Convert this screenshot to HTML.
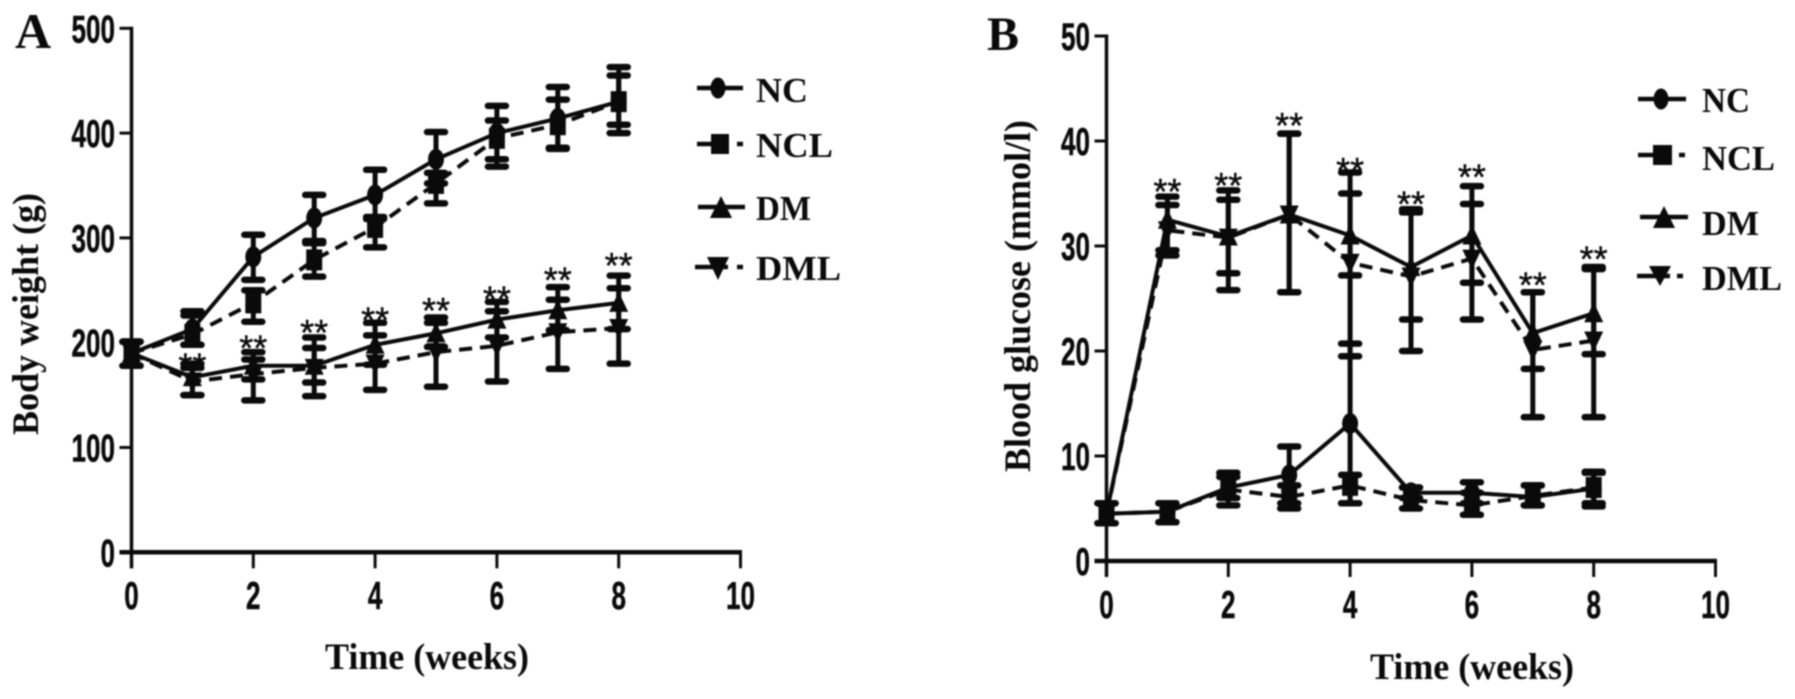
<!DOCTYPE html>
<html lang="en">
<head>
<meta charset="utf-8">
<title>Body weight and blood glucose over time</title>
<style>
html,body{margin:0;padding:0;background:#fff;}
#figure{display:block;width:1795px;height:699px;filter:blur(0.7px);}
.tick{font-family:"Liberation Sans",sans-serif;font-weight:bold;font-size:39px;fill:#0a0a0a;stroke:#0a0a0a;stroke-width:0.5px;}
.serif{font-family:"Liberation Serif",serif;font-weight:bold;fill:#0a0a0a;}
.star{font-family:"Liberation Sans",sans-serif;font-size:36px;fill:#0a0a0a;stroke:#0a0a0a;stroke-width:0.4px;text-anchor:middle;}
</style>
</head>
<body>
<svg id="figure" xmlns="http://www.w3.org/2000/svg" width="1795" height="699" viewBox="0 0 1795 699">
  <rect width="1795" height="699" fill="#fff"/>
  <text class="serif" x="15" y="48" font-size="50">A</text>
  <text class="serif" x="987" y="50" font-size="48">B</text>

  <text class="serif" font-size="37" textLength="242" lengthAdjust="spacingAndGlyphs" transform="translate(38 435) rotate(-90)">Body weight (g)</text>
  <text class="serif" font-size="37" textLength="204" lengthAdjust="spacingAndGlyphs" x="325" y="669">Time (weeks)</text>
  <text class="serif" font-size="37" textLength="352" lengthAdjust="spacingAndGlyphs" transform="translate(1030 472) rotate(-90)">Blood glucose (mmol/l)</text>
  <text class="serif" font-size="37" textLength="204" lengthAdjust="spacingAndGlyphs" x="1370" y="679">Time (weeks)</text>

  <g stroke="#0a0a0a" stroke-width="4.5" fill="#0a0a0a">
    <g>
      <line x1="697" y1="88" x2="743" y2="88"/><ellipse cx="718" cy="88" rx="7.5" ry="10.5" stroke="none"/>
      <text class="serif" stroke="none" font-size="35" x="756" y="102" textLength="52" lengthAdjust="spacingAndGlyphs">NC</text>
    </g>
    <g>
      <line x1="697" y1="144" x2="728" y2="144"/><line x1="737" y1="144" x2="743" y2="144"/><rect x="711" y="134" width="18" height="20" stroke="none"/>
      <text class="serif" stroke="none" font-size="35" x="756" y="157" textLength="77" lengthAdjust="spacingAndGlyphs">NCL</text>
    </g>
    <g>
      <line x1="698" y1="207" x2="745" y2="207"/><polygon points="721,196 732,218 710,218" stroke="none"/>
      <text class="serif" stroke="none" font-size="35" x="756" y="220" textLength="55" lengthAdjust="spacingAndGlyphs">DM</text>
    </g>
    <g>
      <line x1="695" y1="267" x2="709" y2="267"/><line x1="737" y1="267" x2="743" y2="267"/><line x1="709" y1="267" x2="728" y2="267"/><polygon points="707,257 729,257 718,280" stroke="none"/>
      <text class="serif" stroke="none" font-size="35" x="756" y="280" textLength="85" lengthAdjust="spacingAndGlyphs">DML</text>
    </g>
  </g>

  <g stroke="#0a0a0a" stroke-width="4.5" fill="#0a0a0a">
    <g>
      <line x1="1638" y1="99" x2="1686" y2="99"/><ellipse cx="1661" cy="99" rx="7.5" ry="10.5" stroke="none"/>
      <text class="serif" stroke="none" font-size="35" x="1702" y="112" textLength="48" lengthAdjust="spacingAndGlyphs">NC</text>
    </g>
    <g>
      <line x1="1638" y1="155" x2="1670" y2="155"/><line x1="1679" y1="155" x2="1685" y2="155"/><rect x="1653" y="145" width="19" height="20" stroke="none"/>
      <text class="serif" stroke="none" font-size="35" x="1702" y="170" textLength="73" lengthAdjust="spacingAndGlyphs">NCL</text>
    </g>
    <g>
      <line x1="1640" y1="217" x2="1688" y2="217"/><polygon points="1664,206 1675,228 1653,228" stroke="none"/>
      <text class="serif" stroke="none" font-size="35" x="1702" y="235" textLength="57" lengthAdjust="spacingAndGlyphs">DM</text>
    </g>
    <g>
      <line x1="1637" y1="276" x2="1651" y2="276"/><line x1="1677" y1="276" x2="1683" y2="276"/><line x1="1651" y1="276" x2="1670" y2="276"/><polygon points="1649,266 1671,266 1660,286" stroke="none"/>
      <text class="serif" stroke="none" font-size="35" x="1702" y="290" textLength="80" lengthAdjust="spacingAndGlyphs">DML</text>
    </g>
  </g>

  <g id="panel-a"></g>
  <g id="panel-b"></g>
</svg>

<script>
const weeks = [0, 1, 2, 3, 4, 5, 6, 7, 8];
const xTickValues = [0, 2, 4, 6, 8, 10];
const yTickValuesA = [0, 100, 200, 300, 400, 500];
const yTickValuesB = [0, 10, 20, 30, 40, 50];

const weightNC = [190, 213, 282, 319, 341, 375, 400, 414, 430];
const weightNCHigh = [201, 230, 303, 341, 365, 401, 426, 444, 463];
const weightNCLow = [178, 198, 260, 297, 318, 352, 375, 385, 408];
const weightNCL = [190, 208, 238, 279, 310, 352, 395, 408, 430];
const weightNCLHigh = [201, 226, 250, 295, 320, 362, 412, 432, 455];
const weightNCLLow = [178, 198, 220, 263, 291, 333, 368, 386, 400];
const weightDM = [190, 167, 178, 178, 198, 209, 222, 231, 238];
const weightDMHigh = [201, 180, 191, 195, 219, 219, 239, 253, 264];
const weightDMLow = [178, 150, 165, 162, 179, 196, 205, 212, 213];
const weightDML = [190, 163, 170, 176, 180, 191, 197, 210, 214];
const weightDMLHigh = [201, 176, 184, 205, 207, 224, 230, 241, 252];
const weightDMLLow = [178, 150, 145, 149, 155, 158, 163, 175, 180];
const weightStarLevels = [null, 185, 202, 217, 229, 238, 249, 267, 281];

const glucoseNC = [4.5, 4.7, 7, 8.2, 13.1, 6.5, 6.5, 6.1, 6.9];
const glucoseNCHigh = [5.5, 5.5, 8.4, 10.9, 20.7, 7, 7.5, 7.2, 8.5];
const glucoseNCLow = [3.6, 3.7, 6, 5.5, 5.5, 6, 5.5, 5.3, 5.5];
const glucoseNCL = [4.5, 4.7, 6.8, 6.1, 7.2, 5.8, 5.3, 6.2, 7];
const glucoseNCLHigh = [5.5, 5.5, 8, 7.2, 8.2, 7, 6.5, 7.2, 8.4];
const glucoseNCLLow = [3.6, 3.7, 5.3, 5, 5.5, 5, 4.4, 5.3, 5.2];
const glucoseDM = [4.5, 32.5, 30.9, 33, 31, 28, 31, 21.7, 23.6];
const glucoseDMHigh = [5.5, 34.7, 34.4, 40.7, 35, 33.5, 35.7, 25.6, 28];
const glucoseDMLow = [3.6, 29.6, 27.4, 25.6, 27.2, 23, 26.5, 18.3, 19.7];
const glucoseDML = [4.5, 31.5, 30.8, 33, 28.4, 27.1, 28.8, 20.1, 21];
const glucoseDMLHigh = [5.5, 33.9, 35.3, 40.7, 37, 33.2, 34, 25.6, 27.8];
const glucoseDMLLow = [3.6, 29.1, 25.8, 25.6, 19.5, 20, 23, 13.7, 13.7];
const glucoseStarLevels = [null, 35.9, 36.5, 42.2, 37.9, 34.7, 37.3, 27, 29.5];

const SVGNS = 'http://www.w3.org/2000/svg';
const INK = '#0a0a0a';

function xAxisA(v) { return 131.5 + (v / 10) * 609; }
function yAxisA(v) { return 552.3 - (v / 500) * 524; }
function xAxisB(v) { return 1106.5 + (v / 10) * 609; }
function yAxisB(v) { return 561 - (v / 50) * 525; }

function shape(parent, tag, attrs) {
  const el = document.createElementNS(SVGNS, tag);
  for (const key in attrs) el.setAttribute(key, attrs[key]);
  parent.appendChild(el);
  return el;
}

function drawAxes(root, x, y, xTicks, yTicks, yLabelEnd, xLabelBaseline, tickWidth) {
  const group = shape(root, 'g', {});
  
  

  const yLine = shape(group, 'line', { x1: x(0), x2: x(0), y1: y(yTicks[yTicks.length - 1]) - 1.5, y2: y(0) + 16, stroke: INK, 'stroke-width': 3.5 });
  
  

  const xLine = shape(group, 'line', { x1: x(0) - 12, x2: x(xTicks[xTicks.length - 1]) + 1.5, y1: y(0), y2: y(0), stroke: INK, 'stroke-width': 4.5 });
  
  

  yTicks.forEach(function (t) {
    const mark = shape(group, 'line', { x1: x(0) - 12, x2: x(0), y1: y(t), y2: y(t), stroke: INK, 'stroke-width': 3 });
    
    
    const digits = String(t).length;
    const label = shape(group, 'text', { class: 'tick', x: yLabelEnd - digits * tickWidth, y: y(t) + 14, textLength: digits * tickWidth, lengthAdjust: 'spacingAndGlyphs' });
    label.textContent = String(t);
    
    
  });

  xTicks.forEach(function (t) {
    const mark = shape(group, 'line', { x1: x(t), x2: x(t), y1: y(0), y2: y(0) + 16, stroke: INK, 'stroke-width': 3 });
    
    
    const digits = String(t).length;
    const w = digits * tickWidth;
    const label = shape(group, 'text', { class: 'tick', x: x(t) - w / 2, y: xLabelBaseline, textLength: w, lengthAdjust: 'spacingAndGlyphs' });
    label.textContent = String(t);
    
    
  });
}

function drawMarker(group, kind, cx, cy) {
  let el;
  if (kind === 'circle') el = shape(group, 'ellipse', { cx: cx, cy: cy, rx: 8, ry: 10.5, fill: INK });
  if (kind === 'square') el = shape(group, 'rect', { x: cx - 8, y: cy - 10.5, width: 16, height: 21, fill: INK });
  if (kind === 'up') el = shape(group, 'polygon', { points: (cx) + ',' + (cy - 11) + ' ' + (cx + 9.5) + ',' + (cy + 9) + ' ' + (cx - 9.5) + ',' + (cy + 9), fill: INK });
  if (kind === 'down') el = shape(group, 'polygon', { points: (cx - 9.5) + ',' + (cy - 9) + ' ' + (cx + 9.5) + ',' + (cy - 9) + ' ' + (cx) + ',' + (cy + 11), fill: INK });
  return el;
}

function drawSeries(root, name, kind, dashed, x, y, values, highs, lows) {
  const group = shape(root, 'g', {});
  
  

  const points = weeks.map(function (w, i) { return x(w) + ',' + y(values[i]); }).join(' ');
  const attrs = { points: points, fill: 'none', stroke: INK, 'stroke-width': 4 };
  if (dashed) attrs['stroke-dasharray'] = '13 8';
  const line = shape(group, 'polyline', attrs);
  
  

  weeks.forEach(function (w, i) {
    const px = x(w);
    const bar = shape(group, 'line', { x1: px, x2: px, y1: y(highs[i]), y2: y(lows[i]), stroke: INK, 'stroke-width': 5 });
    
    
    const capTop = shape(group, 'line', { x1: px - 9, x2: px + 9, y1: y(highs[i]), y2: y(highs[i]), stroke: INK, 'stroke-width': 6.5, 'stroke-linecap': 'round' });
    
    
    const capLow = shape(group, 'line', { x1: px - 9, x2: px + 9, y1: y(lows[i]), y2: y(lows[i]), stroke: INK, 'stroke-width': 6.5, 'stroke-linecap': 'round' });
    
    
    const marker = drawMarker(group, kind, px, y(values[i]));
    
    
  });
}

function drawStars(root, x, y, levels) {
  levels.forEach(function (level, i) {
    if (level === null) return;
    const star = shape(root, 'text', { class: 'star', x: x(weeks[i]), y: y(level) + 20 });
    star.textContent = '**';
    
    
  });
}

const rootA = document.getElementById('panel-a');
drawAxes(rootA, xAxisA, yAxisA, xTickValues, yTickValuesA, 115, 609, 14.5);
drawSeries(rootA, 'nc', 'circle', false, xAxisA, yAxisA, weightNC, weightNCHigh, weightNCLow);
drawSeries(rootA, 'ncl', 'square', true, xAxisA, yAxisA, weightNCL, weightNCLHigh, weightNCLLow);
drawSeries(rootA, 'dm', 'up', false, xAxisA, yAxisA, weightDM, weightDMHigh, weightDMLow);
drawSeries(rootA, 'dml', 'down', true, xAxisA, yAxisA, weightDML, weightDMLHigh, weightDMLLow);
drawStars(rootA, xAxisA, yAxisA, weightStarLevels);

const rootB = document.getElementById('panel-b');
drawAxes(rootB, xAxisB, yAxisB, xTickValues, yTickValuesB, 1090, 618, 14.5);
drawSeries(rootB, 'nc', 'circle', false, xAxisB, yAxisB, glucoseNC, glucoseNCHigh, glucoseNCLow);
drawSeries(rootB, 'ncl', 'square', true, xAxisB, yAxisB, glucoseNCL, glucoseNCLHigh, glucoseNCLLow);
drawSeries(rootB, 'dm', 'up', false, xAxisB, yAxisB, glucoseDM, glucoseDMHigh, glucoseDMLow);
drawSeries(rootB, 'dml', 'down', true, xAxisB, yAxisB, glucoseDML, glucoseDMLHigh, glucoseDMLLow);
drawStars(rootB, xAxisB, yAxisB, glucoseStarLevels);
</script>
</body>
</html>
